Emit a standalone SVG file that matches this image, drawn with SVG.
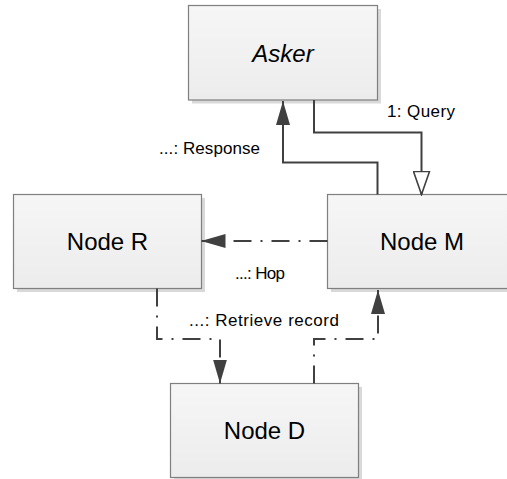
<svg xmlns="http://www.w3.org/2000/svg" width="507" height="479" viewBox="0 0 507 479">
  <style>
    .shadow { fill: #d9d9d9; }
    .box { fill: url(#boxfill); stroke: #7f7f7f; stroke-width: 1.2; }
    .nlabel { font-family: "Liberation Sans", Arial, sans-serif; font-size: 24px; fill: #000; text-anchor: middle; }
    .elabel { font-family: "Liberation Sans", Arial, sans-serif; font-size: 17px; fill: #000; }
    .conn { fill: none; stroke: #404040; stroke-width: 2; }
    .dashdot { stroke-dasharray: 18 9 2 9; }
  </style>
  <defs>
    <linearGradient id="boxfill" x1="0" y1="0" x2="0" y2="1">
      <stop offset="0" stop-color="#f6f6f6"/>
      <stop offset="1" stop-color="#ececec"/>
    </linearGradient>
    <marker id="filled" viewBox="0 0 24 14" refX="24" refY="7" markerWidth="24" markerHeight="14" markerUnits="userSpaceOnUse" orient="auto">
      <path d="M0,0 L24,7 L0,14 z" fill="#404040"/>
    </marker>
    <marker id="hollow" viewBox="0 0 25 18" refX="24" refY="9" markerWidth="25" markerHeight="18" markerUnits="userSpaceOnUse" orient="auto">
      <path d="M1,1 L24,9 L1,17 z" fill="#ffffff" stroke="#404040" stroke-width="1.6"/>
    </marker>
  </defs>

  <g id="node-asker">
    <rect class="shadow" x="192" y="9" width="189" height="94.5"/>
    <rect class="box" x="188.5" y="5.5" width="189" height="94.5"/>
    <text class="nlabel" x="283" y="61.5" font-style="italic">Asker</text>
  </g>
  <g id="node-r">
    <rect class="shadow" x="17" y="198" width="188" height="94"/>
    <rect class="box" x="13.5" y="194.5" width="188" height="94"/>
    <text class="nlabel" x="107.5" y="250">Node R</text>
  </g>
  <g id="node-m">
    <rect class="shadow" x="331" y="198" width="189" height="94"/>
    <rect class="box" x="327.5" y="194.5" width="189" height="94"/>
    <text class="nlabel" x="422" y="250">Node M</text>
  </g>
  <g id="node-d">
    <rect class="shadow" x="174" y="387" width="188" height="94"/>
    <rect class="box" x="170.5" y="383.5" width="188" height="94"/>
    <text class="nlabel" x="264.5" y="438.5">Node D</text>
  </g>

  <g id="connectors">
    <path class="conn" d="M377.5,194.5 V162.5 H283 V101" marker-end="url(#filled)"/>
    <path class="conn" d="M314,100 V132.5 H421.5 V194.5" marker-end="url(#hollow)"/>
    <path class="conn dashdot" d="M327.5,241 H201.5" marker-end="url(#filled)"/>
    <path class="conn dashdot" d="M157,288.5 V339 H220 V383.5" marker-end="url(#filled)"/>
    <path class="conn dashdot" d="M314,383.5 V339 H378 V290" marker-end="url(#filled)"/>
  </g>

  <g id="labels">
    <text class="elabel" x="387" y="117" textLength="68" lengthAdjust="spacing">1: Query</text>
    <text class="elabel" x="159" y="154" textLength="101" lengthAdjust="spacing">...: Response</text>
    <text class="elabel" x="235" y="279" textLength="50" lengthAdjust="spacing">...: Hop</text>
    <text class="elabel" x="189" y="326" textLength="150" lengthAdjust="spacing">...: Retrieve record</text>
  </g>
</svg>
